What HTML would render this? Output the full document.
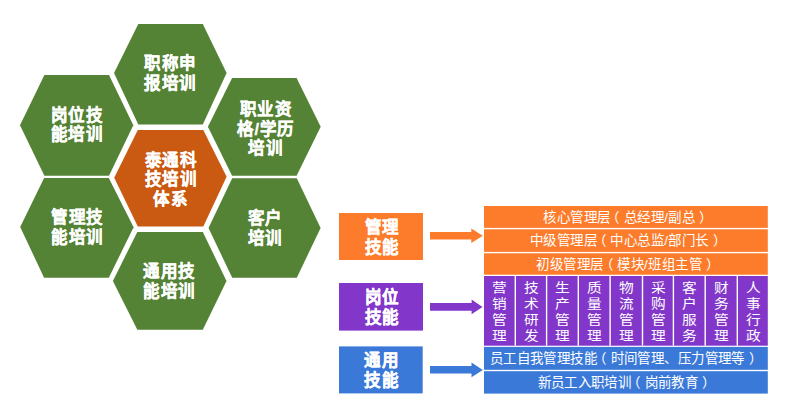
<!DOCTYPE html>
<html lang="zh-CN">
<head>
<meta charset="utf-8">
<style>
html,body{margin:0;padding:0;background:#fff;}
body{width:793px;height:412px;position:relative;overflow:hidden;font-family:"Liberation Sans",sans-serif;}
svg.bg{position:absolute;left:0;top:0;}
.t{position:absolute;color:#fff;font-weight:bold;font-size:16.5px;letter-spacing:0.5px;line-height:19.5px;-webkit-text-stroke:0.3px #fff;text-align:center;white-space:nowrap;}
.row{position:absolute;left:484px;width:284px;color:#fff;font-size:13.5px;letter-spacing:0.45px;text-align:center;white-space:nowrap;}
.col{position:absolute;top:279.8px;height:66px;color:#fff;font-size:13px;line-height:16px;transform:scaleX(1.13);text-align:center;}
.lp{position:relative;left:-4px;}
.rp{position:relative;left:4px;}
</style>
</head>
<body>
<svg class="bg" width="793" height="412" viewBox="0 0 793 412">
  <!-- hexagons -->
  <polygon fill="#558336" points="44.4,75 109,75 133.3,125.3 109,175.8 44.4,175.8 20,125.3"/>
  <polygon fill="#558336" points="138.3,24 202.8,24 226.6,72.9 202.8,124.5 138.3,124.5 114,73"/>
  <polygon fill="#558336" points="232.1,78 296.6,78 320.7,126.8 296.6,175.8 232.1,175.8 207.9,126.8"/>
  <polygon fill="#558336" points="44.1,178 108.8,178 133.6,227.2 108.8,277.7 44.1,277.7 20.2,227"/>
  <polygon fill="#CA5A12" points="137.8,129.9 203.3,129.9 226.6,176.8 203.3,226.5 137.8,226.5 114.2,177.8"/>
  <polygon fill="#558336" points="137.3,231.9 202.8,231.9 226.5,281 202.8,329.7 137.3,329.7 112.9,281"/>
  <polygon fill="#558336" points="232.2,178.3 296.8,178.3 320.6,228 296.8,277.7 232.2,277.7 208.5,228"/>
  <!-- label boxes -->
  <rect x="339" y="213" width="84" height="47" fill="#FD7C2B"/>
  <rect x="339" y="283" width="84" height="47.6" fill="#8337CA"/>
  <rect x="339" y="346.4" width="83.7" height="47" fill="#3B79D8"/>
  <!-- arrows -->
  <polygon fill="#FD7C2B" points="430,231.9 471.3,231.9 471.3,228.4 482.8,235.7 471.3,243.1 471.3,239.6 430,239.6"/>
  <polygon fill="#8337CA" points="430,303.1 471.6,303.1 471.6,299.5 482.5,306.9 471.6,314.3 471.6,310.7 430,310.7"/>
  <polygon fill="#3B79D8" points="430,366.1 471.5,366.1 471.5,362.4 482.8,370.1 471.5,377.2 471.5,373.6 430,373.6"/>
  <!-- panel -->
  <rect x="484" y="206" width="283.8" height="21.9" fill="#FD7C2B"/>
  <rect x="484" y="229.3" width="283.8" height="22.6" fill="#FD7C2B"/>
  <rect x="484" y="253.3" width="283.8" height="21.4" fill="#FD7C2B"/>
  <rect x="484" y="276" width="283.8" height="69.7" fill="#8337CA"/>
  <rect x="484" y="346.9" width="283.8" height="22.9" fill="#3B79D8"/>
  <rect x="484" y="371.2" width="283.8" height="22.4" fill="#3B79D8"/>
  <g fill="#fff">
    <rect x="514.6" y="276" width="1.4" height="69.7"/>
    <rect x="545.9" y="276" width="1.4" height="69.7"/>
    <rect x="577.6" y="276" width="1.4" height="69.7"/>
    <rect x="609.4" y="276" width="1.4" height="69.7"/>
    <rect x="641.8" y="276" width="1.4" height="69.7"/>
    <rect x="672.7" y="276" width="1.4" height="69.7"/>
    <rect x="704.5" y="276" width="1.4" height="69.7"/>
    <rect x="736.6" y="276" width="1.4" height="69.7"/>
  </g>
</svg>

<!-- hex text -->
<div class="t" style="left:27px;top:105.5px;width:100px;">岗位技<br>能培训</div>
<div class="t" style="left:120.4px;top:54px;width:100px;">职称申<br>报培训</div>
<div class="t" style="left:215.8px;top:100px;width:100px;">职业资<br>格/学历<br>培训</div>
<div class="t" style="left:27.5px;top:208.3px;width:100px;">管理技<br>能培训</div>
<div class="t" style="left:120.8px;top:150.8px;width:100px;">泰通科<br>技培训<br>体系</div>
<div class="t" style="left:119.5px;top:262.3px;width:100px;">通用技<br>能培训</div>
<div class="t" style="left:215.2px;top:209.2px;width:100px;">客户<br>培训</div>

<!-- label text -->
<div class="t" style="left:340px;top:218px;width:84px;">管理<br>技能</div>
<div class="t" style="left:340px;top:288.3px;width:84px;">岗位<br>技能</div>
<div class="t" style="left:339.5px;top:351px;width:84px;">通用<br>技能</div>

<!-- panel rows -->
<div class="row" style="top:207.3px;height:21.6px;line-height:21.6px;">核心管理层<span class="lp">（</span>总经理/副总<span class="rp">）</span></div>
<div class="row" style="top:230.3px;height:22.2px;line-height:22.2px;">中级管理层<span class="lp">（</span>中心总监/部门长<span class="rp">）</span></div>
<div class="row" style="top:253.5px;height:21px;line-height:21px;">初级管理层<span class="lp">（</span>模块/班组主管<span class="rp">）</span></div>
<div class="col" style="left:484px;width:31px;">营<br>销<br>管<br>理</div>
<div class="col" style="left:516px;width:30px;">技<br>术<br>研<br>发</div>
<div class="col" style="left:547px;width:31px;">生<br>产<br>管<br>理</div>
<div class="col" style="left:579px;width:31px;">质<br>量<br>管<br>理</div>
<div class="col" style="left:611px;width:31px;">物<br>流<br>管<br>理</div>
<div class="col" style="left:643px;width:30px;">采<br>购<br>管<br>理</div>
<div class="col" style="left:674px;width:31px;">客<br>户<br>服<br>务</div>
<div class="col" style="left:706px;width:31px;">财<br>务<br>管<br>理</div>
<div class="col" style="left:738px;width:30px;">人<br>事<br>行<br>政</div>
<div class="row" style="top:348px;height:22.7px;line-height:22.7px;letter-spacing:0.42px;left:482px;">员工自我管理技能<span class="lp">（</span>时间管理、压力管理等<span class="rp">）</span></div>
<div class="row" style="top:372.3px;height:22.2px;line-height:22.2px;letter-spacing:0.38px;left:482.5px;">新员工入职培训<span class="lp">（</span>岗前教育<span class="rp">）</span></div>
</body>
</html>
